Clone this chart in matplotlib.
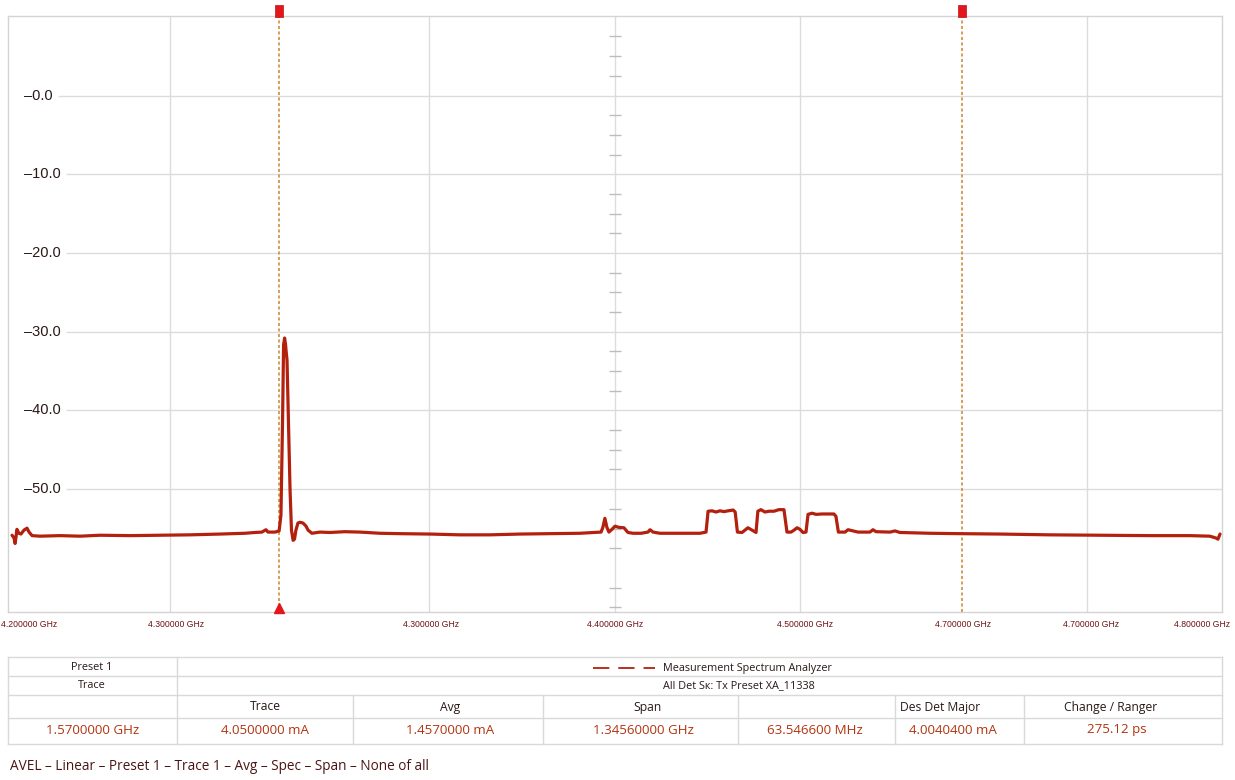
import matplotlib
matplotlib.use("Agg")
import matplotlib.pyplot as plt
import matplotlib.transforms as mtransforms
import numpy as np

# ---------------------------------------------------------------- data
# Spectrum trace: frequency (MHz) and level
freq_mhz = [
    4202.0, 4203.0, 4203.5, 4203.95, 4204.4, 4205.4, 4206.4, 4207.9, 4209.4, 4210.4,
    4211.9, 4215.8, 4225.7, 4235.6, 4245.5, 4260.3, 4275.1, 4289.9, 4304.8, 4317.1,
    4322.1, 4325.5, 4327.5, 4328.5, 4332.0, 4334.0, 4334.9, 4335.7, 4336.2, 4336.7,
    4337.2, 4337.4, 4337.9, 4338.6, 4339.4, 4340.1, 4340.9, 4341.6, 4342.3, 4343.3,
    4344.3, 4345.8, 4347.3, 4348.3, 4350.2, 4354.2, 4359.1, 4366.5, 4374.0, 4383.8,
    4393.7, 4408.6, 4423.4, 4438.2, 4453.0, 4467.9, 4482.7, 4490.1, 4493.1, 4494.0,
    4495.0, 4496.0, 4497.0, 4498.5, 4500.0, 4501.9, 4504.4, 4506.4, 4508.9, 4512.9,
    4516.3, 4517.3, 4518.8, 4522.2, 4532.1, 4542.0, 4545.0, 4546.0, 4548.0, 4549.9,
    4551.9, 4553.9, 4555.9, 4558.4, 4559.4, 4560.5, 4562.8, 4564.7, 4565.7, 4567.7,
    4569.7, 4570.6, 4572.1, 4574.1, 4576.1, 4578.6, 4581.0, 4583.5, 4585.0, 4587.0,
    4588.5, 4590.0, 4591.4, 4592.9, 4594.4, 4595.4, 4597.4, 4599.4, 4602.3, 4605.3,
    4608.2, 4609.2, 4610.4, 4613.7, 4615.2, 4617.6, 4620.1, 4626.0, 4627.5, 4629.0,
    4635.9, 4638.4, 4640.8, 4655.7, 4670.5, 4690.3, 4715.0, 4739.7, 4764.4, 4784.1,
    4794.0, 4797.0, 4798.0, 4799.0,
]
level = [
    -55.85, -56.2, -56.9, -56.1, -55.1, -55.6, -55.7, -55.2, -54.95, -55.45,
    -55.9, -55.97, -55.9, -55.97, -55.85, -55.9, -55.85, -55.8, -55.7, -55.6,
    -55.5, -55.45, -55.15, -55.45, -55.45, -55.3, -53.3, -41.2, -31.7, -30.8,
    -31.7, -32.35, -33.6, -41.2, -50.1, -55.2, -56.5, -56.35, -55.2, -54.3,
    -54.2, -54.3, -54.7, -55.2, -55.6, -55.45, -55.5, -55.4, -55.45, -55.6,
    -55.65, -55.7, -55.8, -55.8, -55.7, -55.65, -55.6, -55.5, -55.45, -54.85,
    -53.7, -54.85, -55.45, -55.1, -54.7, -54.85, -54.9, -55.5, -55.6, -55.6,
    -55.45, -55.15, -55.45, -55.6, -55.6, -55.6, -55.45, -52.8, -52.75, -52.9,
    -52.75, -52.85, -52.75, -52.65, -52.9, -55.45, -55.5, -55.1, -54.9, -55.2,
    -55.5, -52.8, -52.6, -52.9, -52.8, -52.8, -52.6, -52.6, -55.45, -55.45,
    -55.2, -54.9, -55.1, -55.5, -55.45, -53.2, -53.05, -53.2, -53.15, -53.15,
    -53.15, -53.45, -55.45, -55.45, -55.15, -55.3, -55.45, -55.45, -55.15, -55.4,
    -55.45, -55.3, -55.5, -55.6, -55.65, -55.7, -55.8, -55.85, -55.9, -55.9,
    -55.97, -56.2, -56.35, -55.7,
]

# Axis annotations
grid_mhz = [4280.1, 4408.1, 4500.0, 4591.4, 4733.2]
tick_mhz = [4210.4, 4283.0, 4409.1, 4500.0, 4593.9, 4672.0, 4735.2, 4790.1]
tick_labels = ["4.200000 GHz", "4.300000 GHz", "4.300000 GHz", "4.400000 GHz",
               "4.500000 GHz", "4.700000 GHz", "4.700000 GHz", "4.800000 GHz"]
level_ticks = [0, -10, -20, -30, -40, -50]
level_labels = ["\u20130.0", "\u201310.0", "\u201320.0", "\u201330.0", "\u201340.0", "\u201350.0"]
marker_mhz = [4333.9, 4671.5]

# Summary table
row1_label = "Preset 1"
row1_legend = "Measurement Spectrum Analyzer"
row2_label = "Trace"
row2_text = "All Det S\u043a: Tx Preset XA_11338"
header_cells = ["", "Trace", "Avg", "Span", "", "Des Det Major", "Change / Ranger"]
value_cells = ["1.5700000 GHz", "4.0500000 mA", "1.4570000 mA", "1.34560000 GHz",
               "63.546600 MHz", "4.0040400 mA", "275.12 ps"]
footer = "AVEL \u2013 Linear \u2013 Preset 1 \u2013 Trace 1 \u2013 Avg \u2013 Spec \u2013 Span \u2013 None of all"

# ---------------------------------------------------------------- style
TRACE = "#b3200e"
MARKER_RED = "#e3161b"
MARKER_LINE = "#c8862a"
GRID = "#dcdcdc"
DARK = "#2a1818"
VALUE = "#b3340f"
FOOT = "#4a1414"
FONT = ["Open Sans", "DejaVu Sans"]

W, H = 1235, 780
fig = plt.figure(figsize=(W / 100, H / 100), dpi=100)
fig.patch.set_facecolor("white")


def px_axes(left, top, right, bottom, **kw):
    return fig.add_axes([left / W, 1 - bottom / H, (right - left) / W, (bottom - top) / H], **kw)


# ---------------------------------------------------------------- spectrum plot
ax = px_axes(8, 16, 1222, 612)
ax.set_facecolor("white")
ax.set_xlim(4200, 4800)
ax.set_ylim(-65.6, 10.1)
for s in ax.spines.values():
    s.set_color("#d4d4d4")
    s.set_linewidth(1.0)

ax.set_yticks([])
ax.set_xticks(tick_mhz, tick_labels)
ax.tick_params(axis="x", length=0, pad=5.5, labelsize=6.2, labelcolor="#6e1212")
for t in ax.get_xticklabels():
    t.set_family(["Liberation Sans", "DejaVu Sans"])

for g in grid_mhz:
    ax.axvline(g, color=GRID, lw=1.0, zorder=1)

# minor ticks along the centre line
centre = grid_mhz[2]
minor_levels = [v for v in np.arange(7.5, -65.1, -2.5) if abs(v % 10) > 1e-6]
ax.plot([centre] * len(minor_levels), minor_levels, ls="none", marker="_",
        markersize=8, mew=1.0, color="#bdbdbd", zorder=2)

# level labels inside the plot area, 16 px from the left spine
label_tr = mtransforms.blended_transform_factory(ax.transAxes, ax.transData)
label_x = 16 / 1214
label_texts = []
for v, lab in zip(level_ticks, level_labels):
    t = ax.text(label_x, v, lab, transform=label_tr, fontsize=10.5,
                color=DARK, ha="left", va="center",
                family=["Liberation Sans", "DejaVu Sans"])
    label_texts.append((v, t))

# gridlines start just after each label
fig.canvas.draw()
inv = ax.transData.inverted()
for v, t in label_texts:
    bb = t.get_window_extent()
    x_end = inv.transform((bb.x1 + 5, 0))[0]
    ax.hlines(v, x_end, 4800, color=GRID, lw=1.0, zorder=1)

# trace
ax.plot(freq_mhz, level, color=TRACE, lw=2.3, solid_joinstyle="round",
        solid_capstyle="round", zorder=5)

# markers
top_tr = mtransforms.blended_transform_factory(ax.transData, ax.transAxes)
rect_marker = [(-0.33, -0.5), (0.33, -0.5), (0.33, 0.5), (-0.33, 0.5), (-0.33, -0.5)]
for m in marker_mhz:
    ax.axvline(m, color=MARKER_LINE, ls=(0, (2.0, 1.6)), lw=1.1, zorder=4)
    ax.plot([m], [1.0085], transform=top_tr, marker=rect_marker, markersize=9,
            color=MARKER_RED, mec="#c01010", mew=0.5, clip_on=False, zorder=6)
ax.plot([marker_mhz[0]], [0.0075], transform=top_tr, marker="^", markersize=7.5,
        color=MARKER_RED, mec=MARKER_RED, clip_on=False, zorder=6)

# ---------------------------------------------------------------- table
tab = px_axes(0, 0, W, H)
tab.set_xlim(0, W)
tab.set_ylim(H, 0)
tab.axis("off")
tab.patch.set_alpha(0)

LINE = "#d9d9d9"
x0, x1 = 8, 1222
rows = [657, 676, 695, 718, 744]
cols = [8, 177, 353, 543, 738, 895, 1024, 1222]
for y in rows:
    tab.plot([x0, x1], [y, y], color=LINE, lw=1.0)
for x in (x0, 177, x1):
    tab.plot([x, x], [rows[0], rows[-1]], color=LINE, lw=1.0)
for x in cols[2:-1]:
    tab.plot([x, x], [rows[2], rows[-1]], color=LINE, lw=1.0)

tab.text(92, 667, row1_label, ha="center", va="center", fontsize=7.8, color=DARK, family=FONT)
tab.text(92, 686, row2_label, ha="center", va="center", fontsize=7.8, color=DARK, family=FONT)
tab.plot([593, 655], [668, 668], color=TRACE, lw=1.3, ls=(0, (9, 5)))
tab.text(663, 668, row1_legend, ha="left", va="center", fontsize=7.8, color=DARK, family=FONT)
tab.text(663, 686, row2_text, ha="left", va="center", fontsize=7.8, color=DARK, family=FONT)

header_x = [92, 265, 450, 648, 816, 940, 1111]
value_x = [93, 265, 450, 643, 815, 953, 1117]
for x, s in zip(header_x, header_cells):
    if s:
        tab.text(x, 707, s, ha="center", va="center", fontsize=8.7, color=DARK, family=FONT)
for x, s in zip(value_x, value_cells):
    tab.text(x, 730, s, ha="center", va="center", fontsize=9.6, color=VALUE, family=FONT)

tab.text(10, 766, footer, ha="left", va="center", fontsize=9.8, color=FOOT, family=FONT)

fig.savefig("out.png", dpi=100, facecolor="white")
